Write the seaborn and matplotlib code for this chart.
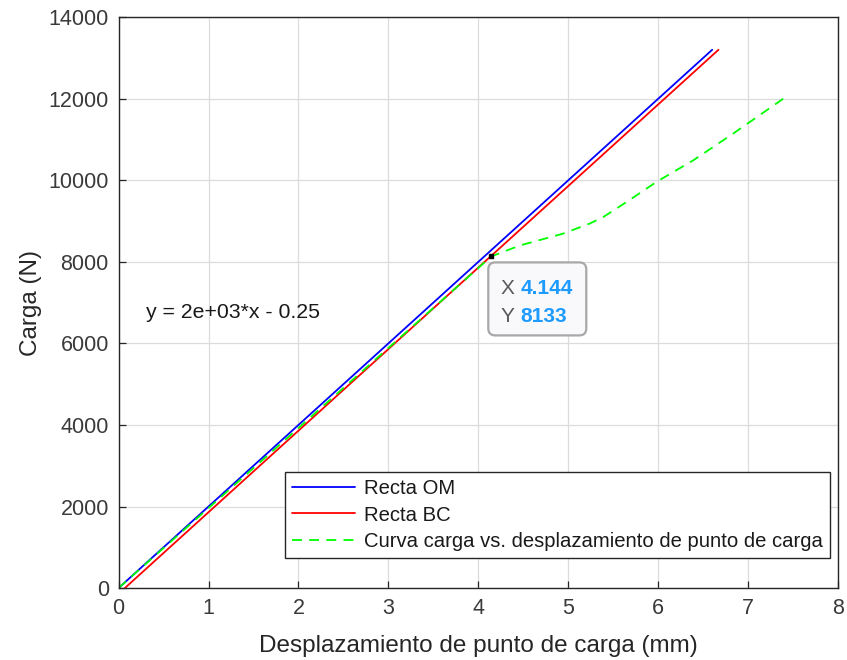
import numpy as np
import pandas as pd
import matplotlib
matplotlib.use("Agg")
import matplotlib.pyplot as plt
import matplotlib.transforms as mtransforms
from matplotlib.patches import FancyBboxPatch
import seaborn as sns

# Straight-line fits (displacement in mm, load in N)
om_x = [0.0, 6.60]
om_y = [0.0, 13200.0]
bc_x = [0.07, 6.67]
bc_y = [0.0, 13200.0]

# Measured load vs. load-point displacement
curve_x = [0.0, 1.0, 2.0, 3.0, 4.144, 4.46, 4.94, 5.24, 5.39, 5.65, 5.98, 6.39, 6.83, 7.39]
curve_y = [0.0, 1962, 3925, 5888, 8133, 8400, 8690, 8940, 9100, 9470, 9960, 10490, 11140, 12000]

tip_x, tip_y = 4.144, 8133
fit_label = "y = 2e+03*x - 0.25"

labels = ["Recta OM", "Recta BC", "Curva carga vs. desplazamiento de punto de carga"]
x_ticks = [0, 1, 2, 3, 4, 5, 6, 7, 8]
y_ticks = [0, 2000, 4000, 6000, 8000, 10000, 12000, 14000]

sns.set_theme(style="whitegrid")
plt.rcParams["font.family"] = ["Liberation Sans", "DejaVu Sans"]

fig = plt.figure(figsize=(8.47, 6.60), dpi=100)
ax = fig.add_axes([0.1400, 0.109, 0.8495, 0.865])

df_om = pd.DataFrame({"x": om_x, "y": om_y})
df_bc = pd.DataFrame({"x": bc_x, "y": bc_y})
df_cv = pd.DataFrame({"x": curve_x, "y": curve_y})

sns.lineplot(data=df_om, x="x", y="y", ax=ax, color="#0000ff", lw=1.3, label=labels[0])
sns.lineplot(data=df_bc, x="x", y="y", ax=ax, color="#ff0000", lw=1.3, label=labels[1])
sns.lineplot(data=df_cv, x="x", y="y", ax=ax, color="#00ff00", lw=1.3,
             dashes=False, linestyle=(0, (5.5, 4)), label=labels[2], sort=False)

ax.set_xlim(0, 8)
ax.set_ylim(0, 14000)
ax.set_xticks(x_ticks)
ax.set_yticks(y_ticks)
ax.set_xticklabels([str(v) for v in x_ticks])
ax.set_yticklabels([str(v) for v in y_ticks])

ax.grid(True, color="#dcdcdc", lw=0.9)
for s in ax.spines.values():
    s.set_visible(True)
    s.set_color("#262626")
    s.set_linewidth(1.0)
ax.tick_params(axis="both", direction="in", length=5, width=0.9, colors="#262626",
               labelcolor="#3a3a3a", labelsize=15.5, pad=7, top=False, right=False,
               bottom=True, left=True)
ax.set_xlabel("Desplazamiento de punto de carga (mm)", fontsize=17.5, color="#262626", labelpad=12)
ax.set_ylabel("Carga (N)", fontsize=17.5, color="#262626", labelpad=5)

ax.text(0.30, 6765, fit_label, fontsize=15.3, color="#1a1a1a", va="center", ha="left")

# Data tip: marker plus a rounded box laid out in pixels around the point
ax.plot([tip_x], [tip_y], marker="s", ms=3.5, color="black", zorder=6)
anchor = mtransforms.IdentityTransform() + mtransforms.ScaledTranslation(tip_x, tip_y, ax.transData)
box = FancyBboxPatch((-3, -79), 98, 73, boxstyle="round,pad=0,rounding_size=7",
                     transform=anchor, fc="#f9f9fb", ec="#a8a8a8", lw=1.6, zorder=7,
                     clip_on=False)
ax.add_patch(box)
for dy, letter, value in [(-32, "X", f"{tip_x:.3f}"), (-60, "Y", f"{tip_y:d}")]:
    ax.annotate(letter, xy=(tip_x, tip_y), xytext=(9, dy), textcoords="offset pixels",
                fontsize=15, color="#5a5a5a", va="center", ha="left", zorder=8)
    ax.annotate(value, xy=(tip_x, tip_y), xytext=(29, dy), textcoords="offset pixels",
                fontsize=15, fontweight="bold", color="#1e9bff", va="center", ha="left", zorder=8)

leg = ax.legend(loc="lower right", bbox_to_anchor=(0.989, 0.052), fontsize=14.6,
                frameon=True, fancybox=False, edgecolor="#262626", framealpha=1,
                handlelength=3.1, handletextpad=0.45, borderpad=0.35, labelspacing=0.38,
                borderaxespad=0)
leg.get_frame().set_linewidth(1.0)
for t in leg.get_texts():
    t.set_color("#1a1a1a")

fig.savefig("out.png", dpi=100)
